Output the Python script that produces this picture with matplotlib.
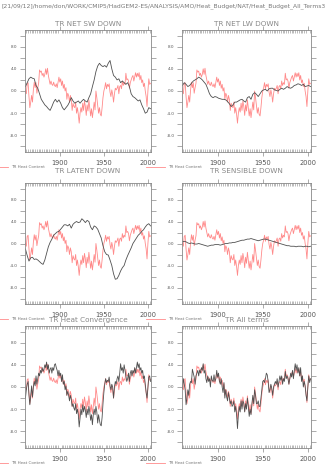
import matplotlib
matplotlib.use('Agg')
import matplotlib.pyplot as plt
import numpy as np

# Heat budget terms (TR region), annual anomalies 1861-2003
years = np.arange(1861, 2004)
years2 = np.arange(1861, 2004, 2)

heat_content = [
    0.0, -0.5, 1.3, 1.5, -1.0, -3.0, -2.0, -0.8, -2.0, 0.2,
    1.6, 0.6, 1.5, -0.4, 0.6, 1.4, 3.8, 3.4, 3.6, 2.8,
    3.2, 2.5, 3.0, 4.0, 3.0, 4.1, 2.8, 2.0, 1.2, 1.8,
    1.2, 1.0, 1.6, 1.0, 0.8, 1.3, 0.6, 1.5, 2.5, 1.6,
    2.2, 1.0, 1.8, 0.5, 1.2, 0.0, 0.6, -1.5, -0.4, -0.8,
    -2.0, -0.8, -1.5, -3.5, -2.2, -2.8, -3.0, -2.0, -4.0, -3.0,
    -4.2, -5.8, -4.0, -3.0, -3.8, -2.2, -3.5, -1.8, -2.8, -4.4,
    -2.5, -3.6, -1.6, -3.0, -4.5, -3.2, -4.8, -3.5, -2.0, -3.4,
    0.0, -1.2, -2.6, -4.0, -3.0, -4.2, -4.5, -3.0, -1.2, 0.0,
    0.6, 1.5, 0.4, 1.2, 0.8, 1.3, -0.2, -1.0, 0.2, -0.6,
    -2.0, -0.5, 0.5, 0.2, 0.5, 1.0, -0.5, 0.8, 1.0, 0.4,
    1.8, 1.0, 1.5, 1.2, 3.2, 2.0, 2.2, 1.8, 0.5, 1.5,
    2.0, 2.5, 2.8, 1.8, 2.6, 3.3, 2.5, 3.2, 2.6, 3.3,
    2.0, 2.8, 1.5, 2.0, 0.8, 1.4, 0.0, -1.0, -2.8, 0.0,
    2.2, 1.2, 1.4,
]

# smoother terms, every second year
net_sw = [
    0.8, 1.5, 2.2, 2.5, 2.3, 2.2, 1.0, 0.5, -0.5, -1.5,
    -2.0, -2.5, -2.8, -3.2, -3.5, -2.8, -2.0, -1.5, -2.0, -1.6,
    -2.2, -3.0, -3.4, -3.0, -2.6, -2.0, -1.2, -1.8, -2.2, -2.0,
    -1.8, -2.2, -1.8, -1.5, -1.8, -2.0, -1.2, -0.5, 0.8, 2.0,
    3.5, 4.5, 5.0, 4.6, 4.4, 4.6, 4.3, 5.0, 5.5, 4.0,
    2.8, 2.5, 2.0, 2.2, 1.5, 1.8, 1.5, 1.2, 1.5, 0.8,
    -0.5, -1.0, -1.2, -1.5, -1.8, -1.6, -2.5, -3.2, -4.0, -3.8,
    -3.0, -3.2,
]
net_lw = [
    1.0, 1.5, 1.2, 0.8, 1.0, 1.4, 1.8, 2.0, 2.2, 2.5,
    2.3, 2.0, 1.6, 1.2, 0.4, -0.5, -1.0, -1.2, -1.0, -1.1,
    -1.3, -1.4, -1.5, -1.5, -1.6, -1.9, -2.3, -2.8, -2.5, -2.0,
    -2.0, -1.8, -1.6, -1.5, -1.8, -2.0, -1.2, -1.0, -1.5, -0.6,
    -0.3, -0.6, -1.0, -0.5, 0.0, 0.2, 0.3, 0.0, 0.4, 0.5,
    0.5, 0.2, 0.1, 0.0, 0.3, 0.5, 0.3, 0.5, 0.8, 0.6,
    0.5, 0.7, 1.0, 1.1, 1.3, 1.2, 1.0, 1.2, 0.8, 0.9,
    1.0, 0.8,
]
latent = [
    -1.0, -2.2, -3.2, -2.6, -2.5, -2.9, -2.8, -3.0, -3.3, -3.6,
    -3.8, -3.0, -1.8, -0.6, 0.2, 0.8, 1.5, 1.8, 2.1, 2.2,
    2.6, 3.0, 3.4, 3.4, 3.2, 3.5, 2.8, 3.5, 3.8, 4.0,
    3.8, 3.9, 4.5, 4.2, 3.8, 4.2, 4.0, 3.0, 2.5, 3.2,
    3.0, 2.6, 1.8, 1.0, -0.4, -1.5, -2.0, -2.1, -3.0, -4.0,
    -5.5, -6.5, -6.4, -5.8, -5.0, -4.4, -4.0, -3.0, -2.2, -1.5,
    -0.8, 0.0, 0.5, 1.0, 1.5, 1.8, 2.2, 2.5, 3.0, 3.4,
    3.6, 3.2,
]
sensible = [
    0.3, 0.4, 0.3, 0.1, 0.0, 0.1, 0.0, -0.1, -0.1, 0.0,
    -0.1, -0.2, -0.3, -0.4, -0.5, -0.4, -0.3, -0.3, -0.2, -0.2,
    -0.2, -0.3, -0.2, -0.1, 0.0, 0.0, 0.1, 0.1, 0.2, 0.2,
    0.3, 0.4, 0.5, 0.6, 0.6, 0.7, 0.8, 0.8, 0.9, 0.8,
    0.7, 0.6, 0.5, 0.6, 0.7, 0.8, 0.8, 0.7, 0.6, 0.5,
    0.4, 0.3, 0.2, 0.1, 0.0, -0.1, -0.2, -0.3, -0.4, -0.4,
    -0.5, -0.5, -0.5, -0.6, -0.5, -0.5, -0.5, -0.6, -0.5, -0.5,
    -0.6, -0.5,
]

# annual terms
heat_conv = [
    -2.0, -0.5, 0.5, 1.0, -1.5, -3.2, -1.5, 0.2, -1.8, 0.0,
    1.0, 0.2, 2.0, 0.5, 1.5, 2.5, 2.0, 3.0, 2.5, 3.5,
    2.8, 3.2, 4.0, 3.5, 4.5, 3.2, 4.0, 2.5, 3.2, 3.5,
    2.5, 3.5, 3.0, 4.0, 4.2, 3.5, 3.0, 2.0, 3.0, 2.0,
    2.5, 1.0, 2.2, 0.5, 1.0, -0.5, 0.2, -1.5, -0.8, -1.5,
    -2.5, -1.5, -2.2, -3.5, -3.0, -3.8, -4.2, -3.0, -4.8, -4.0,
    -5.0, -7.2, -5.5, -4.0, -5.0, -3.2, -4.5, -3.5, -4.2, -5.5,
    -4.0, -5.0, -3.5, -4.5, -6.0, -5.0, -6.8, -5.0, -4.0, -5.0,
    -3.5, -4.5, -6.5, -5.0, -6.0, -6.8, -7.0, -5.5, -3.0, -1.0,
    0.5, 1.5, 0.8, 1.2, 1.0, 1.8, 0.2, -0.5, 0.5, 0.0,
    -2.0, 0.0, 1.0, 0.5, 1.5, 2.0, 1.0, 2.5, 4.2, 3.0,
    3.5, 2.5, 4.0, 3.0, 2.0, 1.0, 1.5, 2.5, 1.0, 2.5,
    3.0, 2.0, 3.0, 2.5, 3.5, 2.5, 3.5, 4.5, 3.5, 4.2,
    3.0, 3.5, 2.5, 3.0, 1.5, 2.0, 0.5, -1.0, -2.0, 0.0,
    1.8, 2.0, 1.0,
]
all_terms = [
    -0.3, 1.5, 0.5, -0.5, -3.2, -2.0, -0.5, -1.5, 0.5, 1.0,
    0.8, 3.2, 2.5, 1.8, 0.5, 2.0, 2.5, 3.0, 2.0, 3.0,
    2.5, 3.5, 3.0, 4.2, 2.5, 3.0, 1.5, 0.8, 2.0, 1.0,
    1.5, 0.0, 2.0, 1.2, 1.0, 2.2, 1.0, 1.5, 3.0, 1.8,
    2.5, 1.0, 0.5, 1.5, 0.0, -1.0, 0.8, -2.0, -0.5, -1.8,
    -2.5, -1.0, -2.0, -3.0, -2.5, -3.5, -3.2, -2.5, -4.5, -3.5,
    -5.0, -7.5, -5.0, -3.5, -4.5, -2.5, -4.0, -2.5, -3.0, -4.5,
    -3.0, -4.0, -2.0, -3.5, -5.3, -4.0, -5.0, -3.0, -1.5, -3.0,
    -0.5, -1.5, -3.0, -3.0, -2.5, -3.5, -3.5, -2.0, -0.5, 1.0,
    1.2, 0.8, 1.5, 2.5, 2.2, 1.0, -1.0, -0.5, 0.5, -0.2,
    -1.5, 0.0, 0.5, 1.0, 0.5, 1.5, 0.0, 1.0, 2.0, 1.2,
    2.0, 0.5, 1.5, 1.0, 2.8, 1.5, 2.0, 1.5, 0.5, 1.5,
    2.5, 1.8, 3.0, 1.5, 3.0, 4.2, 3.0, 4.0, 2.5, 3.5,
    2.0, 3.5, 1.0, 2.0, 0.0, 1.0, 0.2, -1.5, -2.5, 0.0,
    2.0, 0.8, 1.5,
]

titles = ['TR NET SW DOWN', 'TR NET LW DOWN', 'TR LATENT DOWN',
          'TR SENSIBLE DOWN', 'TR Heat Convergence', 'TR All terms']
terms = [(years2, net_sw), (years2, net_lw), (years2, latent),
         (years2, sensible), (years, heat_conv), (years, all_terms)]

header = ('[21/09/12]/home/don/WORK/CMIP5/HadGEM2-ES/ANALYSIS/AMO/'
          'Heat_Budget/NAT/Heat_Budget_All_Terms3')

W, H = 334, 466
fig = plt.figure(figsize=(W / 100, H / 100), dpi=100)
fig.text(1 / W, 1 - 6.5 / H, header, fontsize=4.3, color='#777777',
         ha='left', va='center')

col_left = [25, 182]
col_width = [126, 129]
row_top = [30, 183, 326]
row_height = [122, 121, 122]
title_y = [23.5, 171, 320]

red = '#ff8a8a'
grey = '#888888'

for i, (title, (xs, ys)) in enumerate(zip(titles, terms)):
    r, c = divmod(i, 2)
    x0, w = col_left[c], col_width[c]
    y0, h = row_top[r], row_height[r]
    ax = fig.add_axes([x0 / W, 1 - (y0 + h) / H, w / W, h / H])

    hc, = ax.plot(years, heat_content, color=red, lw=0.6)
    ax.plot(xs, ys, color='#505050', lw=0.6)

    ax.set_xlim(1860.5, 2003.5)
    ax.set_ylim(-11, 11)
    ax.set_xticks([1900, 1950, 2000])
    ax.set_xticks(np.arange(1862, 2004, 2), minor=True)
    ax.set_yticks([-8, -4, 0, 4, 8])
    ax.set_yticklabels(['-8.0', '-4.0', '0.0', '4.0', '8.0'])
    ax.set_yticks([-10, -6, -2, 2, 6, 10], minor=True)

    ax.tick_params(axis='x', which='major', direction='out', length=3,
                   width=0.5, top=True, labelsize=4.8, pad=2.5,
                   color=grey, labelcolor='#555555')
    ax.tick_params(axis='x', which='minor', direction='in', length=2,
                   width=0.4, top=True, color=grey)
    ax.tick_params(axis='y', which='both', direction='out', length=3.5,
                   width=0.5, right=True, labelsize=3, pad=2,
                   color=grey, labelcolor='#555555')
    for s in ax.spines.values():
        s.set_color(grey)
        s.set_linewidth(0.6)

    fig.text((x0 + w / 2) / W, 1 - title_y[r] / H, title, fontsize=5.2,
             color='#888888', ha='center', va='center')

    ax.legend([hc], ['TR Heat Content'], loc='center left',
              bbox_to_anchor=(-36 / w, -15 / h), frameon=False,
              fontsize=3, borderpad=0, borderaxespad=0,
              handlelength=4.6, handletextpad=0.7, labelcolor='#777777')

fig.savefig('out.png', dpi=100)
